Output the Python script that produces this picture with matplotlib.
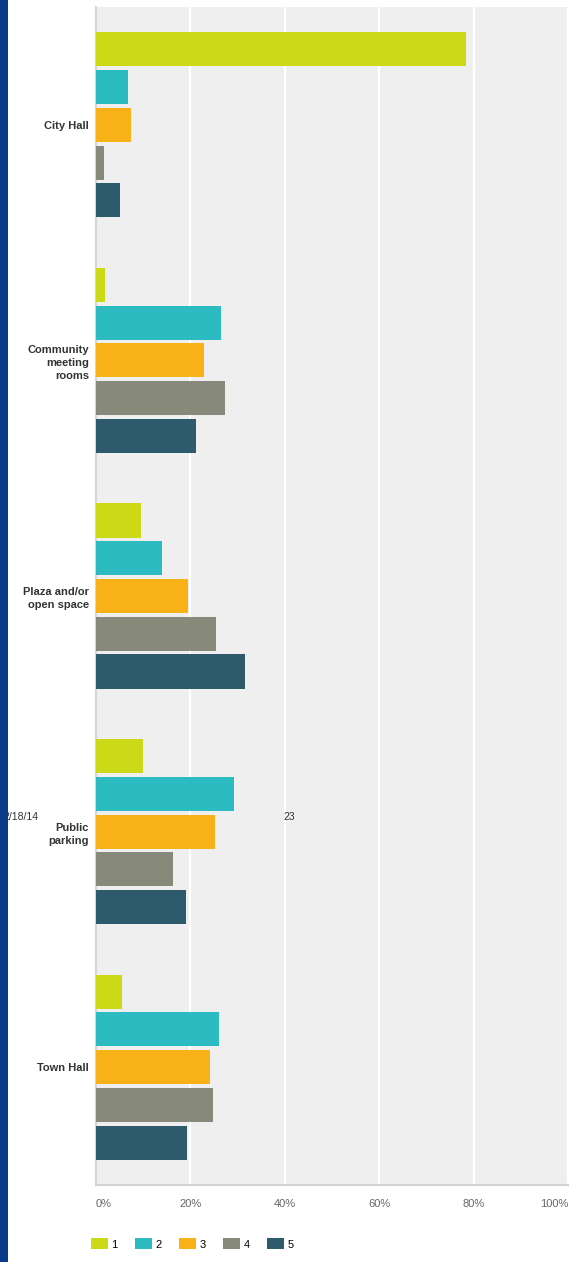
import numpy as np
import matplotlib
matplotlib.use("Agg")
import matplotlib.pyplot as plt
from matplotlib.patches import Patch, Rectangle

# survey rows (top to bottom) and percentage of answers per rank 1..5
categories = ["City Hall", "Community\nmeeting\nrooms", "Plaza and/or\nopen space",
              "Public\nparking", "Town Hall"]
ranks = ["1", "2", "3", "4", "5"]
rank1 = [78.3, 1.9, 9.5, 9.9, 5.5]
rank2 = [6.8, 26.5, 13.9, 29.2, 26.0]
rank3 = [7.5, 22.8, 19.4, 25.3, 24.2]
rank4 = [1.7, 27.4, 25.4, 16.4, 24.8]
rank5 = [5.1, 21.2, 31.6, 19.0, 19.2]
xticks = [0, 20, 40, 60, 80, 100]
xtick_labels = ["0%", "20%", "40%", "60%", "80%", "100%"]

colors = ["#CCD916", "#2BBBC1", "#F8B117", "#878A7A", "#2E5B6B"]

plt.rcParams['font.family'] = ['Liberation Sans', 'DejaVu Sans']

W, H = 570, 1262
fig = plt.figure(figsize=(W / 100, H / 100), dpi=100)

left, right, top, bottom = 96, 568, 7, 1185
ax = fig.add_axes([left / W, 1 - bottom / H, (right - left) / W, (bottom - top) / H])
ax.set_facecolor("#EFEFEF")

series = [rank1, rank2, rank3, rank4, rank5]
ypos = np.arange(len(categories))
pitch = 0.1604
for i, vals in enumerate(series):
    ax.barh(ypos + (i - 2) * pitch, vals, height=0.145, color=colors[i], zorder=3)

ax.set_xlim(0, 100)
ax.set_ylim(len(categories) - 0.5, -0.5)

ax.set_yticks(ypos)
ax.set_yticklabels(categories, fontsize=8, fontweight="bold", color="#333333",
                   ha="right", linespacing=1.4)
ax.tick_params(axis="y", length=0, pad=5)

ax.set_xticks(xticks)
ax.set_xticklabels(xtick_labels, fontsize=8, color="#666666")
ax.tick_params(axis="x", length=0, pad=10)
# end labels sit inside the figure like in the reference
xl = ax.get_xticklabels()
xl[0].set_horizontalalignment("left")
xl[-1].set_horizontalalignment("right")

ax.xaxis.grid(True, color="white", lw=1.6, zorder=1)
ax.set_axisbelow(True)

for s in ["top", "right"]:
    ax.spines[s].set_visible(False)
ax.spines["left"].set_color("#D6D6D6")
ax.spines["left"].set_linewidth(1.5)
ax.spines["bottom"].set_color("#D2D2D2")
ax.spines["bottom"].set_linewidth(1.5)

# legend under the axis
handles = [Patch(facecolor=c, edgecolor="none") for c in colors]
fig.legend(handles, ranks, loc="center left", bbox_to_anchor=(91 / W, 1 - 1244 / H),
           ncol=5, frameon=False, fontsize=8, handlelength=1.5, handleheight=1.1,
           handletextpad=0.35, columnspacing=1.55, borderaxespad=0, borderpad=0)

# page break leftovers from the printed survey
fig.text(3 / W, 1 - 817 / H, "2/18/14", fontsize=7.5, color="#333333", va="center")
fig.text(283 / W, 1 - 817 / H, "23", fontsize=7.5, color="#333333", va="center")

# blue band on the left edge
fig.add_artist(Rectangle((0, 0), 8 / W, 1, transform=fig.transFigure,
                         facecolor="#0B3C8C", edgecolor="none", zorder=10))

fig.savefig("out.png", dpi=100, facecolor="white")
